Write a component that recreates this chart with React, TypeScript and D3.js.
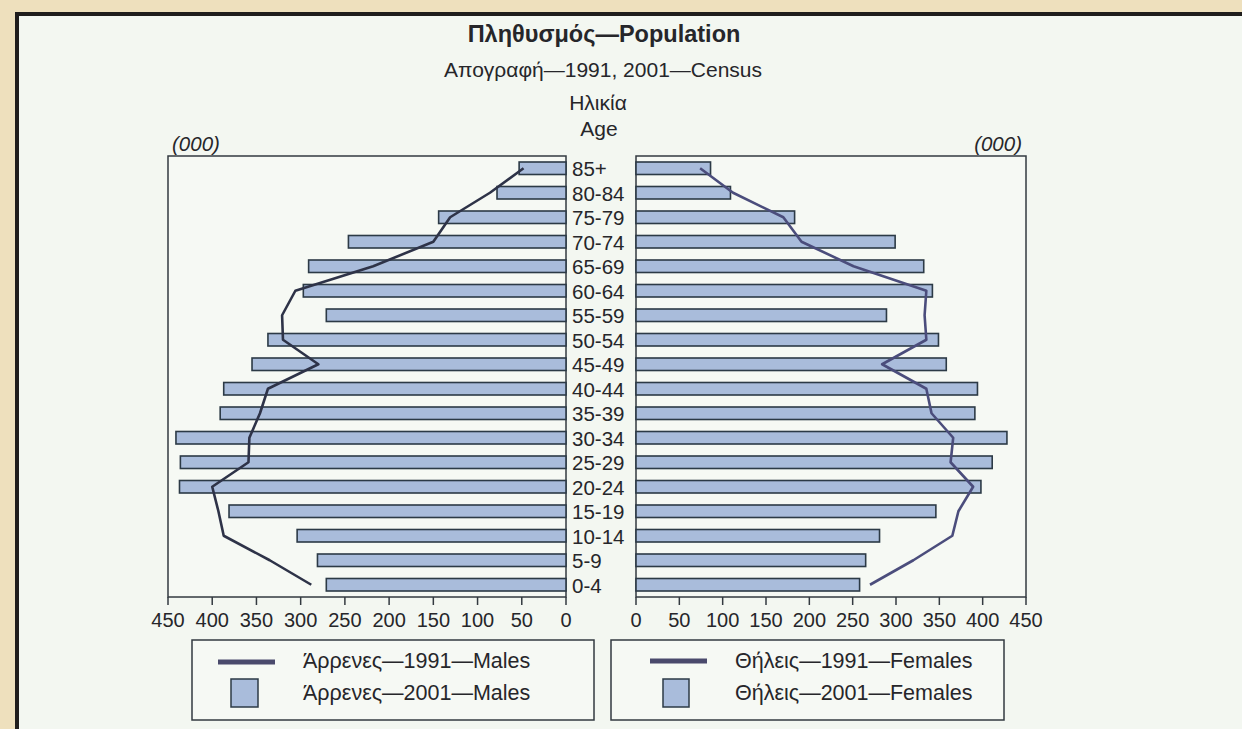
import React from "react";
import * as d3 from "d3";

const ages = ["0-4","5-9","10-14","15-19","20-24","25-29","30-34","35-39","40-44","45-49","50-54","55-59","60-64","65-69","70-74","75-79","80-84","85+"];
const males2001 = [271, 281, 304, 381, 437, 436, 441, 391, 387, 355, 337, 271, 297, 291, 246, 144, 78, 53];
const males1991 = [288, 335, 387, 393, 400, 359, 358, 346, 337, 280, 320, 321, 306, 218, 150, 131, 86, 48];
const females2001 = [258, 265, 281, 346, 398, 411, 428, 391, 394, 358, 349, 289, 342, 332, 299, 183, 109, 86];
const females1991 = [270, 320, 365, 372, 389, 363, 366, 341, 335, 284, 335, 333, 335, 251, 191, 170, 112, 74];
const tickValues = [0, 50, 100, 150, 200, 250, 300, 350, 400, 450];

const FONT = "'Liberation Sans', Arial, Helvetica, sans-serif";
const TXT = "#26262a";
const BAR_FILL = "#a9bcdb";
const BAR_STROKE = "#2c3a46";
const MALE_LINE = "#2e3348";
const FEMALE_LINE = "#4b4d7c";

export default function App() {
  const W = 1242, H = 729;
  const top = 156, bottom = 597;
  const xL = d3.scaleLinear().domain([0, 450]).range([566, 168]);
  const xR = d3.scaleLinear().domain([0, 450]).range([636, 1026]);
  const y = d3.scaleBand<string>().domain([...ages].reverse()).range([top, bottom]).paddingInner(0.49).paddingOuter(0.245);
  const bw = y.bandwidth();
  const cy = (a: string) => (y(a) as number) + bw / 2;

  const lineL = d3.line<number>().x((d) => xL(d)).y((_, i) => cy(ages[i]));
  const lineR = d3.line<number>().x((d) => xR(d)).y((_, i) => cy(ages[i]));

  return (
    <svg width={W} height={H} style={{ position: "absolute", left: 0, top: 0 }} fontFamily={FONT}>
      <rect x={0} y={0} width={W} height={H} fill="#eee0bd" />
      <rect x={17} y={14} width={W + 20} height={H + 20} fill="#f3f7f1" stroke="#1f1d1c" strokeWidth={4} />

      {/* titles */}
      <text x={604} y={42} textAnchor="middle" fontSize={23.5} fontWeight="bold" fill={TXT}>Πληθυσμός—Population</text>
      <text x={603} y={77} textAnchor="middle" fontSize={21} fill={TXT}>Απογραφή—1991, 2001—Census</text>
      <text x={598} y={110} textAnchor="middle" fontSize={21} fill={TXT}>Ηλικία</text>
      <text x={599} y={136} textAnchor="middle" fontSize={21} fill={TXT}>Age</text>
      <text x={172} y={151} fontSize={20.5} fontStyle="italic" fill={TXT}>(000)</text>
      <text x={1022} y={151} textAnchor="end" fontSize={20.5} fontStyle="italic" fill={TXT}>(000)</text>

      {/* left panel */}
      <rect x={168} y={top} width={566 - 168} height={bottom - top} fill="#f6f9f4" stroke="#333a40" strokeWidth={1.5} />
      {ages.map((a, i) => (
        <rect key={"ml" + a} x={xL(males2001[i])} y={y(a)} width={xL(0) - xL(males2001[i])} height={bw}
          fill={BAR_FILL} stroke={BAR_STROKE} strokeWidth={1.6} />
      ))}
      <path d={lineL(males1991) || ""} fill="none" stroke={MALE_LINE} strokeWidth={2.6} strokeLinejoin="round" />
      {tickValues.map((t) => (
        <g key={"tl" + t}>
          <line x1={xL(t)} x2={xL(t)} y1={bottom} y2={bottom + 8} stroke="#333a40" strokeWidth={1.5} />
          <text x={xL(t)} y={627} textAnchor="middle" fontSize={20} fill={TXT}>{t}</text>
        </g>
      ))}

      {/* right panel */}
      <rect x={636} y={top} width={1026 - 636} height={bottom - top} fill="#f6f9f4" stroke="#333a40" strokeWidth={1.5} />
      {ages.map((a, i) => (
        <rect key={"fr" + a} x={xR(0)} y={y(a)} width={xR(females2001[i]) - xR(0)} height={bw}
          fill={BAR_FILL} stroke={BAR_STROKE} strokeWidth={1.6} />
      ))}
      <path d={lineR(females1991) || ""} fill="none" stroke={FEMALE_LINE} strokeWidth={2.6} strokeLinejoin="round" />
      {tickValues.map((t) => (
        <g key={"tr" + t}>
          <line x1={xR(t)} x2={xR(t)} y1={bottom} y2={bottom + 8} stroke="#333a40" strokeWidth={1.5} />
          <text x={xR(t)} y={627} textAnchor="middle" fontSize={20} fill={TXT}>{t}</text>
        </g>
      ))}

      {/* age labels */}
      {ages.map((a) => (
        <text key={"age" + a} x={572} y={cy(a) + 8} fontSize={20.5} fill={TXT}>{a}</text>
      ))}

      {/* legends */}
      <rect x={192} y={640} width={402} height={80} fill="#f6f9f4" stroke="#333a40" strokeWidth={1.5} />
      <line x1={218} x2={275} y1={662} y2={662} stroke="#4a4a6c" strokeWidth={5} />
      <rect x={231} y={679} width={27} height={28} fill={BAR_FILL} stroke={BAR_STROKE} strokeWidth={1.5} />
      <text x={303} y={668} fontSize={21.5} fill={TXT}>Άρρενες—1991—Males</text>
      <text x={303} y={700} fontSize={21.5} fill={TXT}>Άρρενες—2001—Males</text>

      <rect x={611} y={640} width={393} height={80} fill="#f6f9f4" stroke="#333a40" strokeWidth={1.5} />
      <line x1={650} x2={707} y1={661} y2={661} stroke="#4a4a6c" strokeWidth={5} />
      <rect x={663} y={679} width={26} height={28} fill={BAR_FILL} stroke={BAR_STROKE} strokeWidth={1.5} />
      <text x={735} y={668} fontSize={21.5} fill={TXT}>Θήλεις—1991—Females</text>
      <text x={735} y={700} fontSize={21.5} fill={TXT}>Θήλεις—2001—Females</text>
    </svg>
  );
}
